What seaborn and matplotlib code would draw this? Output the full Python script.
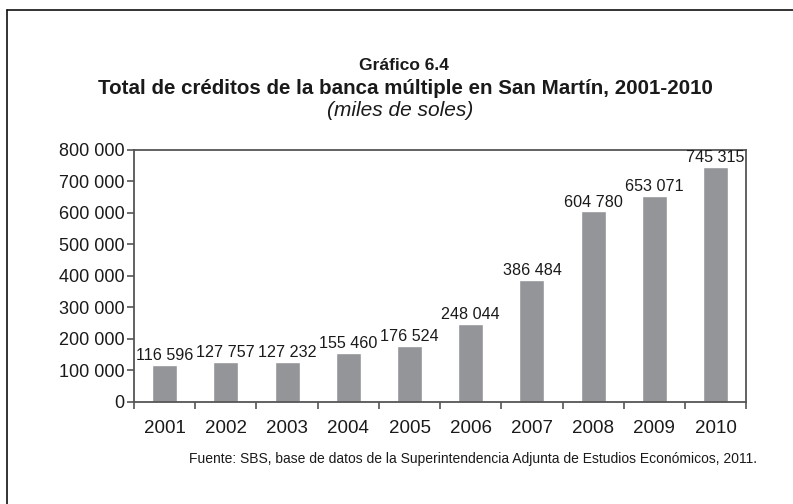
import matplotlib
matplotlib.use("Agg")
import matplotlib.pyplot as plt
from matplotlib.ticker import FixedLocator, FuncFormatter
import seaborn as sns
import pandas as pd

years = ["2001", "2002", "2003", "2004", "2005", "2006", "2007", "2008", "2009", "2010"]
creditos = [116596, 127757, 127232, 155460, 176524, 248044, 386484, 604780, 653071, 745315]
y_ticks = [0, 100000, 200000, 300000, 400000, 500000, 600000, 700000, 800000]

df = pd.DataFrame({"anio": years, "creditos": creditos})

sns.set_theme(style="white")
plt.rcParams["font.family"] = ["Liberation Sans", "DejaVu Sans"]


def miles(v, pos=None):
    return f"{int(round(v)):,}".replace(",", " ")


fig = plt.figure(figsize=(7.93, 5.04), dpi=100)
ax = fig.add_axes([0.169, 0.2024, 0.772, 0.5])

sns.barplot(data=df, x="anio", y="creditos", color="#939598", width=0.41,
            saturation=1, ax=ax)

for i, v in enumerate(creditos):
    ax.text(i, v + 6000, miles(v), ha="center", va="bottom",
            fontsize=11.6, color="#1a1a1a")

ax.set_ylim(0, 800000)
ax.set_xlim(-0.5, len(years) - 0.5)
ax.yaxis.set_major_locator(FixedLocator(y_ticks))
ax.yaxis.set_major_formatter(FuncFormatter(miles))
ax.set_xlabel("")
ax.set_ylabel("")

ax.xaxis.set_minor_locator(FixedLocator([i - 0.5 for i in range(len(years) + 1)]))
ax.tick_params(axis="x", which="major", length=0, pad=13, labelsize=13.5,
               labelcolor="#1a1a1a")
ax.tick_params(axis="x", which="minor", bottom=True, length=5, width=1.2,
               color="#555555", direction="out")
ax.tick_params(axis="y", which="major", left=True, length=5, width=1.2,
               color="#555555", direction="out", pad=2, labelsize=13,
               labelcolor="#1a1a1a")

for side in ["left", "right", "top", "bottom"]:
    ax.spines[side].set_visible(True)
    ax.spines[side].set_color("#555555")
    ax.spines[side].set_linewidth(1.3)

fig.text(404 / 793, 1 - 66 / 504, "Gráfico 6.4", ha="center", va="center",
         fontsize=12.5, fontweight="bold", color="#1a1a1a")
fig.text(405.5 / 793, 1 - 88 / 504,
         "Total de créditos de la banca múltiple en San Martín, 2001-2010",
         ha="center", va="center", fontsize=14.8, fontweight="bold",
         color="#1a1a1a")
fig.text(400 / 793, 1 - 110 / 504, "(miles de soles)", ha="center", va="center",
         fontsize=15, style="italic", color="#1a1a1a")
fig.text(757 / 793, 1 - 459 / 504,
         "Fuente: SBS, base de datos de la Superintendencia Adjunta de Estudios Económicos, 2011.",
         ha="right", va="center", fontsize=10, color="#1a1a1a")

# page frame: top and left rules
fig.add_artist(plt.Line2D([7 / 793, 1], [1 - 9.5 / 504, 1 - 9.5 / 504],
                          transform=fig.transFigure, color="#111111", lw=1.2))
fig.add_artist(plt.Line2D([7 / 793, 7 / 793], [0, 1 - 9.5 / 504],
                          transform=fig.transFigure, color="#111111", lw=1.2))

fig.savefig("out.png", dpi=100)
